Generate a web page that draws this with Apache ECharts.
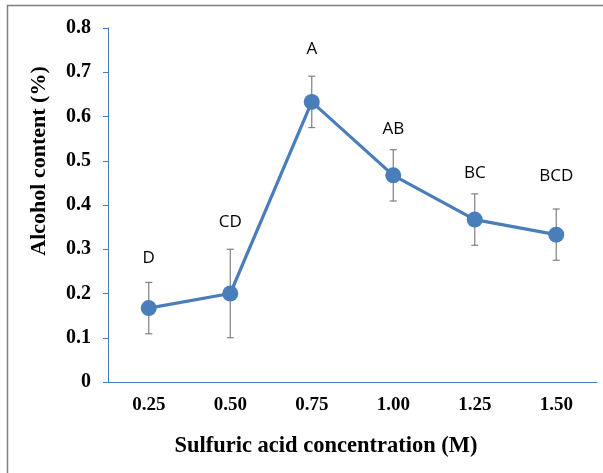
<!DOCTYPE html>
<html>
<head>
<meta charset="utf-8">
<script src="https://cdn.jsdelivr.net/npm/echarts@6/dist/echarts.min.js"></script>
<style>html,body{margin:0;padding:0;background:#fff}#c{width:603px;height:473px}</style>
</head>
<body>
<div id="c"></div>
<script>
const categories = ['0.25', '0.50', '0.75', '1.00', '1.25', '1.50'];
const alcohol = [0.167, 0.200, 0.633, 0.467, 0.367, 0.333];
const errors = [0.058, 0.100, 0.058, 0.058, 0.058, 0.058];
const letters = ['D', 'CD', 'A', 'AB', 'BC', 'BCD'];
const letterY = [0.28, 0.362, 0.752, 0.572, 0.472, 0.465];
const yTicks = [0, 0.1, 0.2, 0.3, 0.4, 0.5, 0.6, 0.7, 0.8];

const blue = '#4a7ebb';
const chart = echarts.init(document.getElementById('c'), null, {renderer: 'canvas'});

const errData = categories.map((c, i) => [i, alcohol[i] - errors[i], alcohol[i] + errors[i]]);
const letterData = categories.map((c, i) => [i, letterY[i], letters[i]]);

chart.setOption({
  animation: false,
  backgroundColor: '#fff',
  grid: {left: 108, right: 6, top: 28, bottom: 91, containLabel: false},
  xAxis: {
    type: 'category',
    data: categories,
    boundaryGap: true,
    axisLine: {lineStyle: {color: blue, width: 1}},
    axisTick: {alignWithLabel: true, length: 5, lineStyle: {color: blue}},
    axisLabel: {color: '#000', fontFamily: 'Liberation Serif', fontWeight: 'bold', fontSize: 19, margin: 14},
    splitLine: {show: false}
  },
  yAxis: {
    type: 'value',
    min: yTicks[0],
    max: yTicks[yTicks.length - 1],
    interval: 0.1,
    axisLine: {show: true, lineStyle: {color: blue, width: 1}},
    axisTick: {show: true, length: 5, lineStyle: {color: blue}},
    axisLabel: {
      color: '#000', fontFamily: 'Liberation Serif', fontWeight: 'bold', fontSize: 20, margin: 17,
      formatter: v => (Math.abs(v) < 1e-9 ? '0' : v.toFixed(1))
    },
    splitLine: {show: false}
  },
  series: [
    {
      type: 'custom',
      name: 'err',
      z: 1,
      renderItem: function (params, api) {
        const x = api.coord([api.value(0), 0])[0];
        const lo = api.coord([api.value(0), api.value(1)])[1];
        const hi = api.coord([api.value(0), api.value(2)])[1];
        const w = 3.5;
        const st = {stroke: '#7f7f7f', lineWidth: 1.2};
        return {
          type: 'group',
          children: [
            {type: 'line', shape: {x1: x, y1: lo, x2: x, y2: hi}, style: st},
            {type: 'line', shape: {x1: x - w, y1: lo, x2: x + w, y2: lo}, style: st},
            {type: 'line', shape: {x1: x - w, y1: hi, x2: x + w, y2: hi}, style: st}
          ]
        };
      },
      data: errData
    },
    {
      type: 'line',
      name: 'Alcohol content',
      data: alcohol,
      z: 3,
      symbol: 'circle',
      symbolSize: 16,
      itemStyle: {color: blue},
      lineStyle: {color: blue, width: 3.2}
    },
    {
      type: 'custom',
      name: 'letters',
      z: 4,
      renderItem: function (params, api) {
        const p = api.coord([api.value(0), api.value(1)]);
        return {
          type: 'text',
          x: p[0], y: p[1],
          style: {
            text: letters[params.dataIndex],
            fill: '#000',
            font: '17px "Open Sans"',
            textAlign: 'center',
            textVerticalAlign: 'middle'
          }
        };
      },
      data: letterData
    }
  ],
  graphic: [
    {
      type: 'rect',
      shape: {x: 7.5, y: 5.5, width: 700, height: 600},
      style: {fill: 'none', stroke: '#7f7f7f', lineWidth: 1.5},
      silent: true, z: -1
    },
    {
      type: 'text',
      x: 39, y: 161,
      rotation: Math.PI / 2,
      style: {
        text: 'Alcohol content (%)',
        fill: '#000',
        font: 'bold 22px "Liberation Serif"',
        textAlign: 'center',
        textVerticalAlign: 'middle'
      }
    },
    {
      type: 'text',
      x: 326, y: 446,
      style: {
        text: 'Sulfuric acid concentration (M)',
        fill: '#000',
        font: 'bold 22.5px "Liberation Serif"',
        textAlign: 'center',
        textVerticalAlign: 'middle'
      }
    }
  ]
});
</script>
</body>
</html>
